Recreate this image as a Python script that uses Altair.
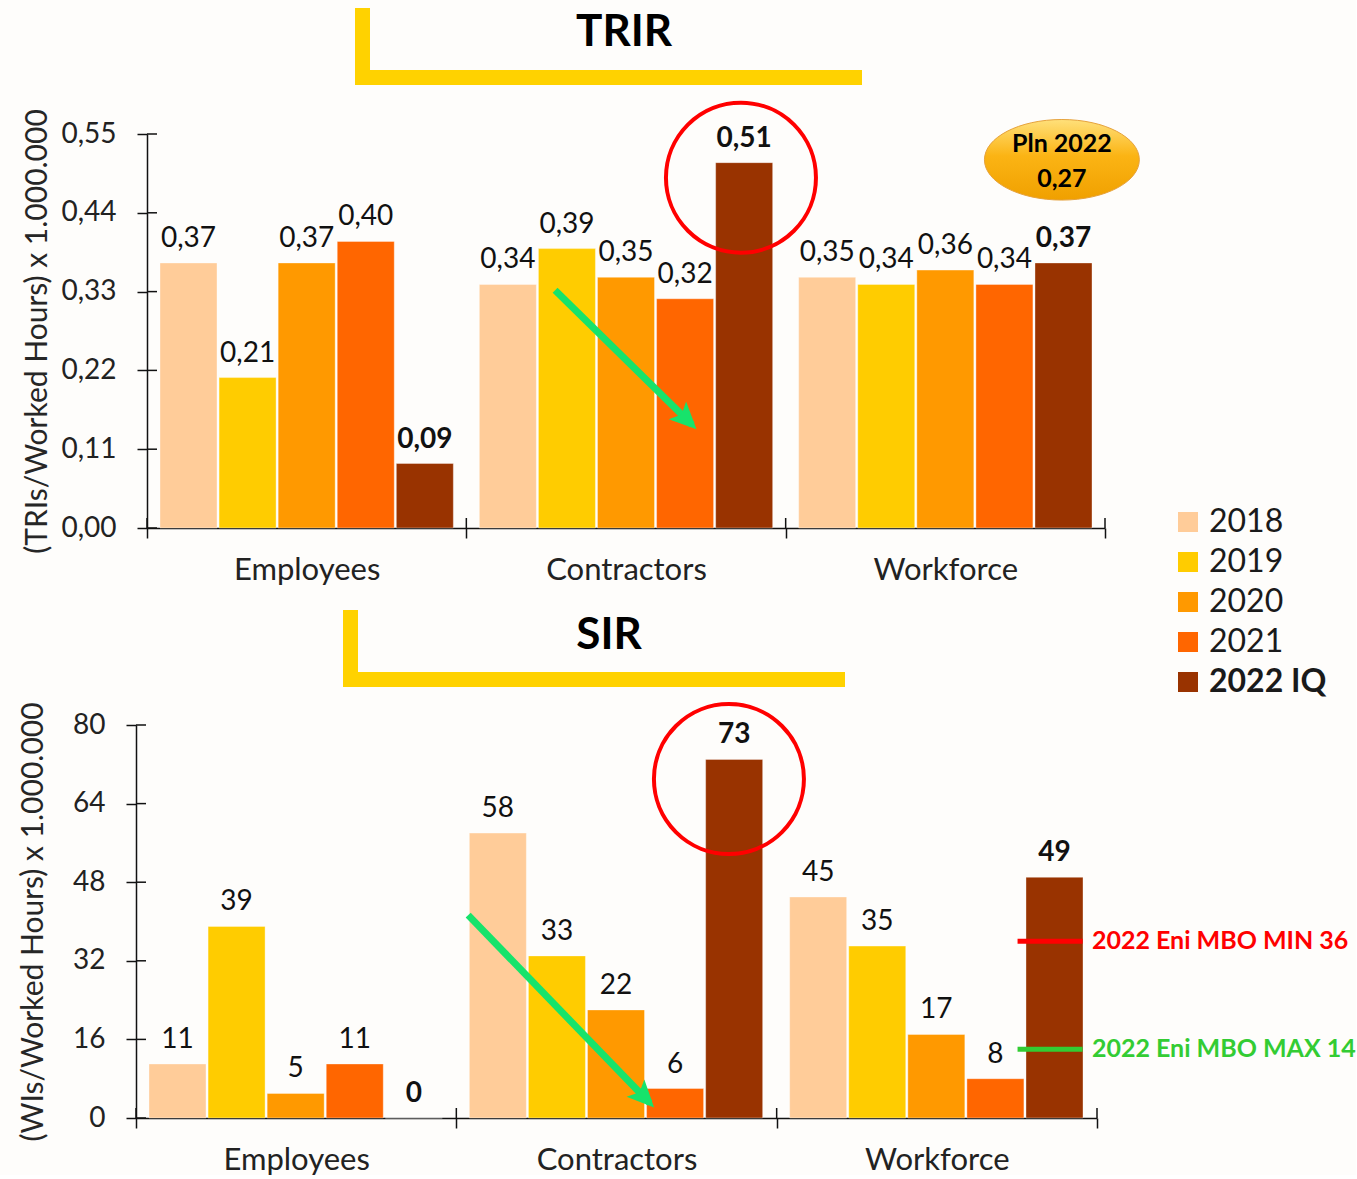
import altair as alt
import pandas as pd

FONT = "Lato"
BG = "#FEFDFB"
INK = "#111111"
GREEN = "#17E36B"
YELLOW = "#FFD200"

# ---------------- data ----------------
categories = ["Employees", "Contractors", "Workforce"]
years = ["2018", "2019", "2020", "2021", "2022 IQ"]
year_colors = ["#FFCC99", "#FFCC00", "#FF9900", "#FF6600", "#993300"]

trir_employees = [0.37, 0.21, 0.37, 0.40, 0.09]
trir_contractors = [0.34, 0.39, 0.35, 0.32, 0.51]
trir_workforce = [0.35, 0.34, 0.36, 0.34, 0.37]
trir_ticks = [0.00, 0.11, 0.22, 0.33, 0.44, 0.55]

sir_employees = [11, 39, 5, 11, 0]
sir_contractors = [58, 33, 22, 6, 73]
sir_workforce = [45, 35, 17, 8, 49]
sir_ticks = [0, 16, 32, 48, 64, 80]

plan_text = "Pln 2022\n0,27"
mbo_min = 36
mbo_max = 14
mbo_min_label = f"2022 Eni MBO MIN {mbo_min}"
mbo_max_label = f"2022 Eni MBO MAX {mbo_max}"

# annotation anchors:
# (category, fraction across the category group, value)
trir_circle = ("Contractors", 0.86, 0.489)
trir_pill = ("Workforce", 0.865, 0.514)
trir_arrow = ("Contractors", 0.278, 0.332, 0.707, 0.144)   # cat, f0, v0, f1, v1
sir_circle = ("Contractors", 0.851, 69.0)
sir_arrow = ("Contractors", 0.037, 41.3, 0.604, 3.05)
mbo_anchor = ("Workforce", 0.752, 0.955, 0.853)   # cat, line start, line end, label anchor

W_TOP, H_TOP = 958, 394
W_BOT, H_BOT = 950, 393


def make_df(series, fmt):
    rows = []
    for cat, vals in zip(categories, series):
        for yr, v in zip(years, vals):
            rows.append({"cat": cat, "year": yr, "value": v, "label": fmt(v),
                         "bold": yr == "2022 IQ"})
    return pd.DataFrame(rows)


trir_df = make_df([trir_employees, trir_contractors, trir_workforce],
                  lambda v: f"{v:.2f}".replace(".", ","))
sir_df = make_df([sir_employees, sir_contractors, sir_workforce], lambda v: f"{v:d}")

one = pd.DataFrame({"k": [0]})
cat_df = pd.DataFrame({"cat": categories})
last_cat_df = pd.DataFrame({"cat": [categories[-1]]})

ARROW_HEAD = "M0.3,0 L-1,-0.6 L-0.72,0 L-1,0.6 Z"
ELLIPSE = "M-1,0 A1,0.52,0,1,0,1,0 A1,0.52,0,1,0,-1,0 Z"


def X(**kw):
    return alt.X("cat:N", sort=categories, **kw)


def XO(**kw):
    return alt.XOffset("year:N", sort=years, **kw)


def Y():
    return alt.Y("value:Q")


def panel(df, width, height, ydomain, yticks, ytitle, label_expr, title_pad,
          axis_offset, x_range, legend, title_text, bracket, title_pos,
          circle, arrow, arrow_angle):
    xscale = dict(paddingInner=0, paddingOuter=0)
    if x_range is not None:
        xscale["range"] = x_range
    x_main = X(scale=alt.Scale(**xscale),
               axis=alt.Axis(title=None, labelAngle=0, tickBand="extent", tickSize=10,
                             tickWidth=1.5, tickColor=INK, domainColor=INK, domainWidth=1.5,
                             labelFont=FONT, labelFontSize=31, labelColor="#222222",
                             labelPadding=17))
    y_main = alt.Y("value:Q",
                   scale=alt.Scale(domain=ydomain, nice=False, zero=True),
                   axis=alt.Axis(title=ytitle, values=yticks, labelExpr=label_expr, grid=False,
                                 tickSize=10, tickWidth=1.5, tickColor=INK, domainColor=INK,
                                 domainWidth=1.5, labelFont=FONT, labelFontSize=28,
                                 labelColor="#222222", labelPadding=21, titleFont=FONT,
                                 titleFontSize=30, titleFontWeight="normal",
                                 titleColor="#262626", titlePadding=title_pad,
                                 offset=axis_offset))
    color = alt.Color("year:N", sort=years,
                      scale=alt.Scale(domain=years, range=year_colors), legend=legend)

    bars = alt.Chart(df).mark_bar(stroke="#FFFFFF", strokeWidth=0.6, strokeOpacity=0.6).encode(
        x=x_main,
        xOffset=alt.XOffset("year:N", sort=years,
                            scale=alt.Scale(paddingInner=0.035, paddingOuter=0.22)),
        y=y_main,
        color=color,
    )
    lab_norm = alt.Chart(df[~df["bold"]]).mark_text(
        font=FONT, fontSize=28, color=INK, baseline="alphabetic", dy=-16
    ).encode(x=X(), xOffset=XO(), y=Y(), text="label:N")
    lab_bold = alt.Chart(df[df["bold"]]).mark_text(
        font=FONT, fontSize=28, fontWeight="bold", color=INK, baseline="alphabetic", dy=-16
    ).encode(x=X(), xOffset=XO(), y=Y(), text="label:N")

    ax_x0 = -axis_offset
    ytick_in = alt.Chart(pd.DataFrame({"value": yticks})).mark_rule(
        color=INK, strokeWidth=1.5).encode(
        y=Y(), x=alt.value(ax_x0), x2=alt.value(ax_x0 + 10))
    xtick_in = alt.Chart(cat_df).mark_rule(color=INK, strokeWidth=1.5).encode(
        x=X(bandPosition=0), y=alt.value(height - 10), y2=alt.value(height))
    xtick_end = alt.Chart(last_cat_df).mark_rule(color=INK, strokeWidth=1.5).encode(
        x=X(bandPosition=1), y=alt.value(height - 10), y2=alt.value(height))

    bx0, bx1, by0, by1 = bracket
    br_v = alt.Chart(one).mark_rect(color=YELLOW).encode(
        x=alt.value(bx0), x2=alt.value(bx0 + 15), y=alt.value(by0), y2=alt.value(by1))
    br_h = alt.Chart(one).mark_rect(color=YELLOW).encode(
        x=alt.value(bx0), x2=alt.value(bx1), y=alt.value(by1 - 15), y2=alt.value(by1))
    ttl = alt.Chart(one).mark_text(
        text=title_text, font=FONT, fontSize=44, fontWeight="bold", color="#000000",
        align="center", baseline="middle").encode(
        x=alt.value(title_pos[0]), y=alt.value(title_pos[1]))

    c_cat, c_f, c_v = circle
    circ = alt.Chart(pd.DataFrame({"cat": [c_cat], "value": [c_v]})).mark_point(
        shape="circle", size=22500, filled=False, stroke="#FF0000", strokeWidth=4,
        opacity=1).encode(x=X(bandPosition=c_f), y=Y())

    a_cat, f0, v0, f1, v1 = arrow
    adf = pd.DataFrame({"cat": [a_cat], "value": [v0], "value2": [v1]})
    arr_line = alt.Chart(adf).mark_rule(color=GREEN, strokeWidth=7).encode(
        x=X(bandPosition=f0), x2=alt.X2("cat:N", bandPosition=f1),
        y=Y(), y2=alt.Y2("value2:Q"))
    hdf = pd.DataFrame({"cat": [a_cat], "value": [v1]})
    arr_head = alt.Chart(hdf).mark_point(
        shape=ARROW_HEAD, size=1700, filled=True, color=GREEN, opacity=1,
        angle=arrow_angle).encode(x=X(bandPosition=f1), y=Y())

    layers = [bars, lab_norm, lab_bold, ytick_in, xtick_in, xtick_end,
              br_v, br_h, ttl, circ, arr_line, arr_head]
    return layers


# ---------------- TRIR (top) ----------------
legend = alt.Legend(
    title=None, orient="none", legendX=1025, legendY=372, symbolType="square",
    symbolSize=400, symbolStrokeWidth=0, symbolOpacity=1, labelFont=FONT,
    labelFontSize=32, labelColor="#1A1A1A",
    labelFontWeight={"expr": "datum.label == '2022 IQ' ? 'bold' : 'normal'"},
    labelOffset=5, rowPadding=8, padding=0)

top_layers = panel(
    trir_df, W_TOP, H_TOP, [0, 0.55], trir_ticks, "(TRIs/Worked Hours) x 1.000.000",
    "replace(format(datum.value, '.2f'), '.', ',')", 8, 0, None, legend,
    "TRIR", (208, 715, -126, -49), (477, -101),
    trir_circle, trir_arrow, 44.6)

p_cat, p_f, p_v = trir_pill
pill_df = pd.DataFrame({"cat": [p_cat], "value": [p_v]})
pill = alt.Chart(pill_df).mark_point(
    shape=ELLIPSE, size=24000, filled=True, opacity=1,
    fill=alt.Gradient(gradient="linear", x1=0, x2=0, y1=0, y2=1,
                      stops=[alt.GradientStop(offset=0, color="#FFE07A"),
                             alt.GradientStop(offset=0.45, color="#FBB414"),
                             alt.GradientStop(offset=1, color="#F0A000")]),
    stroke="#E6A23C", strokeWidth=1).encode(x=X(bandPosition=p_f), y=Y())
pill_text = alt.Chart(pill_df).mark_text(
    text=plan_text, lineBreak="\n", lineHeight=35, font=FONT, fontSize=25,
    fontWeight="bold", color="#000000", align="center", baseline="middle",
    dy=-16).encode(x=X(bandPosition=p_f), y=Y())

top = alt.layer(*top_layers, pill, pill_text).properties(width=W_TOP, height=H_TOP)

# ---------------- SIR (bottom) ----------------
bot_layers = panel(
    sir_df, W_BOT, H_BOT, [0, 80], sir_ticks, "(WIs/Worked Hours) x 1.000.000",
    "format(datum.value, 'd')", 24, 11, [-11, W_BOT], None,
    "SIR", (196, 698, -115, -38), (462, -89),
    sir_circle, sir_arrow, 45.9)

m_cat, m_f0, m_f1, m_fl = mbo_anchor
mbo_layers = []
for val, lab, col in [(mbo_min, mbo_min_label, "#FF0000"),
                      (mbo_max, mbo_max_label, "#33CC33")]:
    rows = pd.DataFrame({"cat": [m_cat], "value": [val], "label": [lab]})
    mbo_layers.append(alt.Chart(rows).mark_rule(color=col, strokeWidth=5).encode(
        x=X(bandPosition=m_f0), x2=alt.X2("cat:N", bandPosition=m_f1), y=Y()))
    mbo_layers.append(alt.Chart(rows).mark_text(
        font=FONT, fontSize=25, fontWeight="bold", color=col, align="left",
        baseline="middle", dx=42).encode(
        x=X(bandPosition=m_fl), y=Y(), text="label:N"))

bottom = alt.layer(*bot_layers, *mbo_layers).properties(width=W_BOT, height=H_BOT)

chart = alt.vconcat(top, bottom, spacing=197, bounds="flush").resolve_scale(
    color="independent", x="independent", y="independent"
).resolve_legend(color="independent").properties(
    background=BG, padding={"left": 18, "top": 8, "right": 0, "bottom": 0}
).configure_view(stroke=None)

chart.save("out.html", embed_options={"renderer": "svg", "actions": False})
